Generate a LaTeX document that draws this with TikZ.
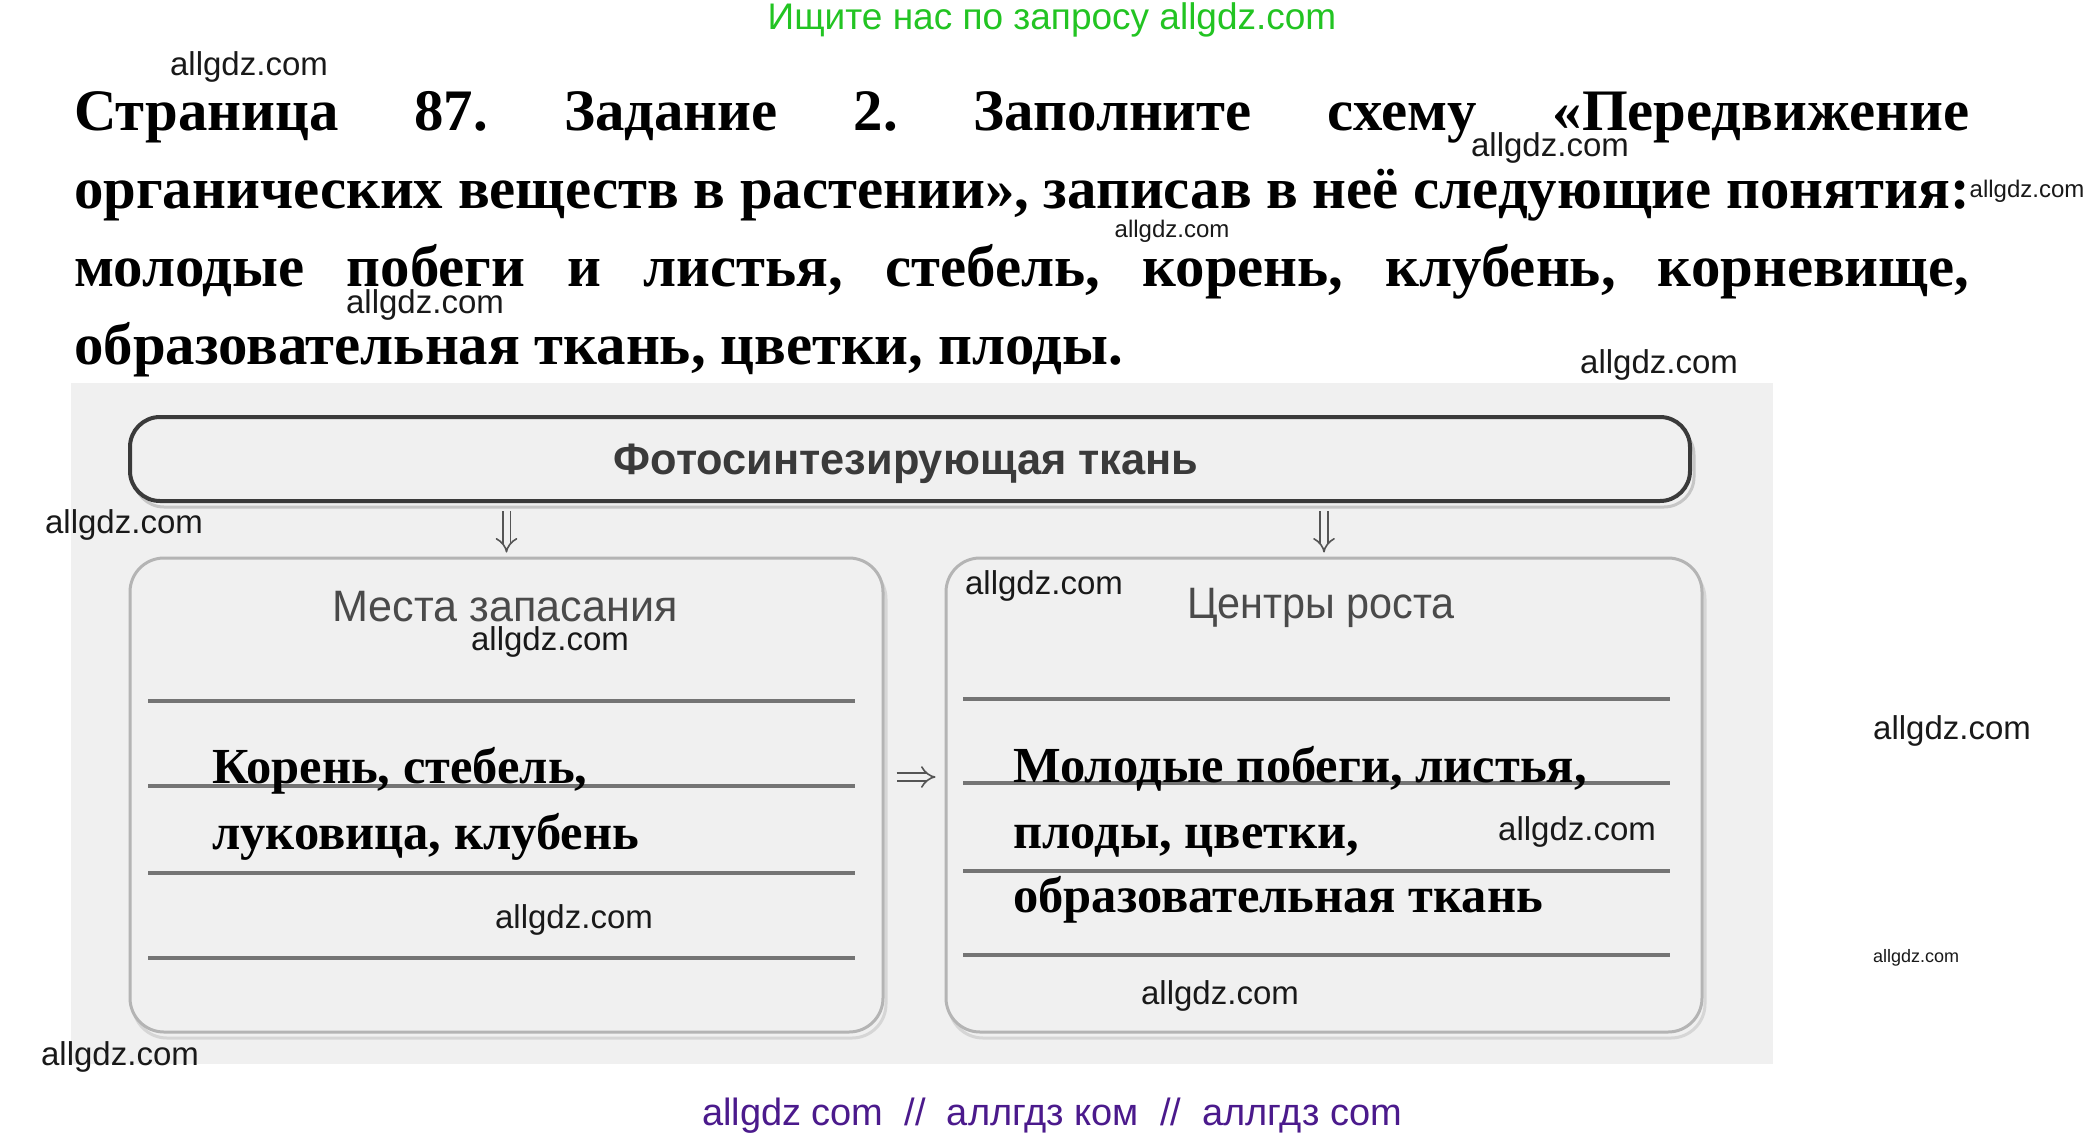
\documentclass[tikz,border=0pt]{standalone}
\usepackage{fontspec}
\setmainfont{Liberation Serif}
\newfontfamily\wmfont{Liberation Sans}
\usetikzlibrary{arrows.meta,calc}
\definecolor{bgc}{HTML}{F0F0F0}
\definecolor{topc}{HTML}{3A3A3A}
\definecolor{boxc}{HTML}{B4B4B4}
\definecolor{shadc}{HTML}{D6D6D6}
\definecolor{linec}{HTML}{747474}
\definecolor{labc}{HTML}{4A4A4A}
\definecolor{arrc}{HTML}{555555}
\definecolor{greenwm}{HTML}{22C422}
\definecolor{purplewm}{HTML}{4B1A8C}
\frenchspacing
\tikzset{
  wmk/.style={font=\wmfont\fontsize{33}{33}\selectfont, text=black!90, inner sep=0pt},
  wmks/.style={font=\wmfont\fontsize{24}{24}\selectfont, text=black!90, inner sep=0pt},
  wmkt/.style={font=\wmfont\fontsize{18}{18}\selectfont, text=black!90, inner sep=0pt},
  titleline/.style={anchor=base west, inner sep=0pt, font=\fontsize{58.8}{78}\selectfont\bfseries},
  answer/.style={anchor=base west, inner sep=0pt, font=\fontsize{50.5}{66}\selectfont\bfseries},
  boxlab/.style={anchor=base, inner sep=0pt, text=labc, font=\wmfont\fontsize{44}{44}\selectfont},
  roundbox/.style={draw=boxc, line width=3pt, rounded corners=34pt, inner sep=0pt},
  dbl/.style={draw=arrc, line width=1.6pt, double=bgc, double distance=6pt, -{Implies}},
  rule/.style={draw=linec, line width=4pt}
}
\begin{document}
\begin{tikzpicture}[x=1pt,y=-1pt]
\useasboundingbox (0,0) rectangle (2096,1138);
\fill[white] (0,0) rectangle (2096,1138);
% top green watermark
\node[font=\wmfont\fontsize{37}{37}\selectfont, text=greenwm, inner sep=0pt] (gtop) at (1052,20) {Ищите нас по запросу allgdz.com};
% title
\node[titleline] (t1) at (74,130) {\makebox[1895pt][s]{Страница 87. Задание 2. Заполните схему «Передвижение}};
\node[titleline] (t2) at (74,208) {органических веществ в растении», записав в неё следующие понятия:};
\node[titleline] (t3) at (74,286) {\makebox[1895pt][s]{молодые побеги и листья, стебель, корень, клубень, корневище,}};
\node[titleline] (t4) at (74,364) {образовательная ткань, цветки, плоды.};
% scan background
\fill[bgc] (71,383) rectangle (1773,1064);
% top box
\draw[gray!45, line width=3pt, rounded corners=30pt] (134,425) rectangle (1694,507);
\node[draw=topc, fill=bgc, line width=4pt, rounded corners=30pt, minimum width=1560pt, minimum height=84pt, inner sep=0pt] (top) at (910,459) {};
\node[anchor=base, inner sep=0pt, text=topc, font=\wmfont\bfseries\fontsize{44}{44}\selectfont] (toplab) at (906,474) {\scalebox{0.985}[1]{Фотосинтезирующая ткань}};
% lower boxes
\draw[shadc, line width=3pt, rounded corners=34pt] (133,565) rectangle (886,1038);
\draw[shadc, line width=3pt, rounded corners=34pt] (949,565) rectangle (1705,1038);
\node[roundbox, fill=bgc, minimum width=753pt, minimum height=474pt] (L) at (506.5,795) {};
\node[roundbox, fill=bgc, minimum width=756pt, minimum height=474pt] (R) at (1324,795) {};
\node[boxlab] (Llab) at (505,621) {\scalebox{0.98}[1]{Места запасания}};
\node[boxlab] (Rlab) at (1321,618) {\scalebox{0.94}[1]{Центры роста}};
% arrows
\draw[dbl] ($(top.south -| L.north)+(0,8)$) -- ($(L.north)+(0,-4)$);
\draw[dbl] ($(top.south -| R.north)+(0,8)$) -- ($(R.north)+(0,-4)$);
\coordinate (ay) at (0,777);
\draw[dbl, shorten <=12pt, shorten >=9pt] (L.east |- ay) -- (R.west |- ay);
% rules
\foreach \y in {701,786,873,958} \draw[rule] (148,\y) -- (855,\y);
\foreach \y in {699,783,871,955} \draw[rule] (963,\y) -- (1670,\y);
% answers
\node[answer] (a1) at (212,783) {Корень, стебель,};
\node[answer] (a2) at (212,849) {луковица, клубень};
\node[answer] (b1) at (1013,782) {Молодые побеги, листья,};
\node[answer] (b2) at (1013,848) {плоды, цветки,};
\node[answer] (b3) at (1013,912) {образовательная ткань};
% watermarks
\node[wmk] (w1) at (249,67) {allgdz.com};
\node[wmk] (w2) at (1550,148) {allgdz.com};
\node[wmks] (w3) at (2027,191) {allgdz.com};
\node[wmks] (w4) at (1172,231) {allgdz.com};
\node[wmk] (w5) at (425,305) {allgdz.com};
\node[wmk] (w6) at (1659,365) {allgdz.com};
\node[wmk] (w7) at (124,525) {allgdz.com};
\node[wmk] (w8) at (1044,586) {allgdz.com};
\node[wmk] (w9) at (550,642) {allgdz.com};
\node[wmk] (w10) at (1952,731) {allgdz.com};
\node[wmk] (w11) at (1577,832) {allgdz.com};
\node[wmk] (w12) at (574,920) {allgdz.com};
\node[wmkt] (w13) at (1916,958) {allgdz.com};
\node[wmk] (w14) at (1220,996) {allgdz.com};
\node[wmk] (w15) at (120,1057) {allgdz.com};
% bottom purple
\node[font=\wmfont\fontsize{38}{38}\selectfont, text=purplewm, inner sep=0pt] (pbot) at (1052,1116) {allgdz com \ // \ аллгдз ком \ // \ аллгдз com};
\end{tikzpicture}
\end{document}
